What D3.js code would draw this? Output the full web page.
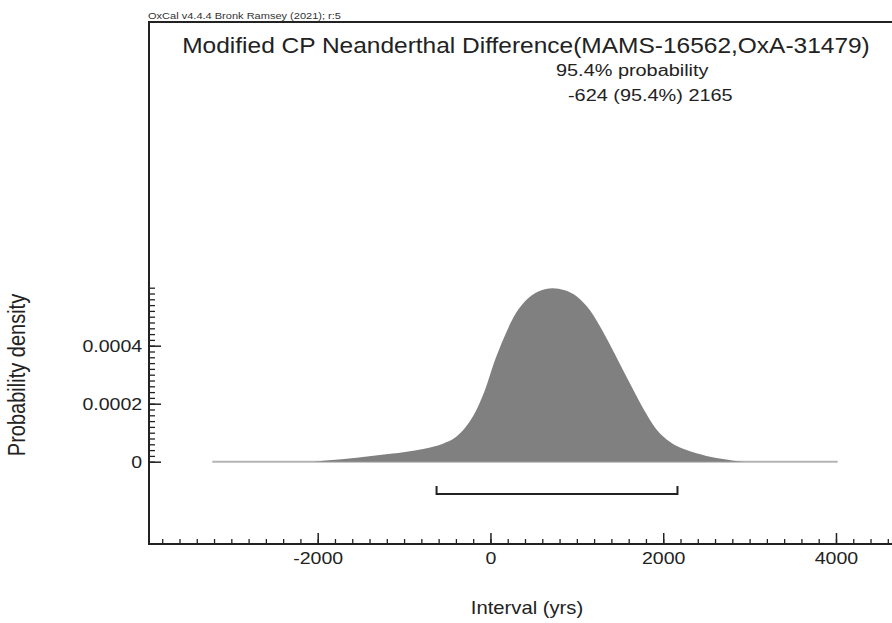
<!DOCTYPE html>
<html>
<head>
<meta charset="utf-8">
<script src="https://cdn.jsdelivr.net/npm/d3@7"></script>
<style>
  body { margin: 0; background: #fff; }
  svg { display: block; font-family: "Liberation Sans", Arial, sans-serif; }
</style>
</head>
<body>
<svg id="chart"></svg>
<script>
// density curve (interval in years, probability density)
const years = [-3220, -2050, -1900, -1550, -1160, -780, -550, -400, -280, -160, -60, 40, 160, 270, 400, 560, 720, 860, 1000, 1150, 1300, 1450, 1600, 1770, 1920, 2080, 2270, 2500, 2730, 2900, 3000, 4020];
const density = [0, 0, 0.000004, 0.000014, 0.000027, 0.000044, 0.000062, 0.000085, 0.000122, 0.00018, 0.00025, 0.00034, 0.00043, 0.0005, 0.000553, 0.000588, 0.000598, 0.000591, 0.00057, 0.000523, 0.00045, 0.000365, 0.000278, 0.000183, 0.000112, 0.000068, 0.00004, 0.00002, 0.000008, 0.000001, 0, 0];
const range954 = [-624, 2165];
const xTickValues = [-2000, 0, 2000, 4000];
const yTickValues = [0, 0.0002, 0.0004];
const yTickLabels = ["0", "0.0002", "0.0004"];
const titleText = "Modified CP Neanderthal Difference(MAMS-16562,OxA-31479)";
const probText = "95.4% probability";
const rangeText = "-624 (95.4%) 2165";
const creditText = "OxCal v4.4.4 Bronk Ramsey (2021); r:5";

const width = 892, height = 623;
const stretch = 1.15; // source picture is widened horizontally
const ink = "#222";

const svg = d3.select("svg#chart")
    .attr("width", width)
    .attr("height", height)
    .attr("viewBox", [0, 0, width, height]);

const frame = { left: 149, top: 22, bottom: 544, right: 905 };

const x = d3.scaleLinear()
    .domain([-3953, -3953 + (900 - 149) / 0.08638])
    .range([149, 900]);

const y = d3.scaleLinear()
    .domain([0, 0.0006])
    .range([461.7, 287.7]);

const data = years.map((d, i) => ({ yr: d, p: density[i] }));

// baseline of the distribution
svg.append("line")
    .attr("x1", x(years[0])).attr("x2", x(years[years.length - 1]))
    .attr("y1", y(0)).attr("y2", y(0))
    .attr("stroke", "#b4b4b4")
    .attr("stroke-width", 2);

const area = d3.area()
    .x(d => x(d.yr))
    .y0(y(0))
    .y1(d => y(d.p))
    .curve(d3.curveMonotoneX);

svg.append("path")
    .datum(data)
    .attr("d", area)
    .attr("fill", "#808080");

// 95.4% range bracket
const by = 494;
svg.append("path")
    .attr("d", `M${x(range954[0])},${by - 8}V${by}H${x(range954[1])}V${by - 8}`)
    .attr("fill", "none")
    .attr("stroke", ink)
    .attr("stroke-width", 2);

// x axis: minor ticks every 200 years, labelled every 2000
const xMinor = d3.range(-3800, 4800, 200);
svg.append("g")
    .attr("transform", `translate(0, ${frame.bottom})`)
    .call(d3.axisBottom(x).tickValues(xMinor).tickSize(-5).tickFormat(""))
    .call(g => g.select(".domain").remove())
    .call(g => g.selectAll("line").attr("stroke", ink).attr("stroke-width", 1.3));

svg.append("g")
    .attr("transform", `translate(0, ${frame.bottom})`)
    .call(d3.axisBottom(x).tickValues(xTickValues).tickSize(-11).tickPadding(8).tickFormat(d => String(d)))
    .call(g => g.select(".domain").remove())
    .call(g => g.selectAll("line").attr("stroke", ink).attr("stroke-width", 1.5))
    .call(g => g.selectAll("text")
        .attr("fill", ink)
        .attr("font-size", 17)
        .attr("font-family", "Liberation Sans, Arial, sans-serif")
        .attr("transform", `scale(${stretch},1)`));

// y axis: minor ticks every 0.00002
const yMinor = d3.range(0, 0.000601, 0.00002);
svg.append("g")
    .attr("transform", `translate(${frame.left}, 0)`)
    .call(d3.axisLeft(y).tickValues(yMinor).tickSize(-6).tickFormat(""))
    .call(g => g.select(".domain").remove())
    .call(g => g.selectAll("line").attr("stroke", ink).attr("stroke-width", 1.3));

svg.append("g")
    .attr("transform", `translate(${frame.left}, 0)`)
    .call(d3.axisLeft(y).tickValues(yTickValues).tickSize(-12).tickPadding(6)
        .tickFormat((d, i) => yTickLabels[i]))
    .call(g => g.select(".domain").remove())
    .call(g => g.selectAll("line").attr("stroke", ink).attr("stroke-width", 1.5))
    .call(g => g.selectAll("text")
        .attr("fill", ink)
        .attr("font-size", 17)
        .attr("font-family", "Liberation Sans, Arial, sans-serif")
        .attr("transform", `scale(${stretch},1)`));

// plot frame (right side runs off the page)
svg.append("rect")
    .attr("x", frame.left).attr("y", frame.top)
    .attr("width", frame.right - frame.left)
    .attr("height", frame.bottom - frame.top)
    .attr("fill", "none")
    .attr("stroke", ink)
    .attr("stroke-width", 2);

const label = (txt, px, py, size, anchor, color) =>
    svg.append("text")
        .attr("transform", `translate(${px},${py}) scale(${stretch},1)`)
        .attr("text-anchor", anchor)
        .attr("font-size", size)
        .attr("fill", color || ink)
        .text(txt);

label(creditText, 148, 19, 9.6, "start", "#333");
label(titleText, 526, 53, 21.3, "middle");
label(probText, 556, 76, 17.3, "start");
label(rangeText, 568, 101, 17.3, "start");
label("Interval (yrs)", 527, 614, 17.6, "middle");

svg.append("text")
    .attr("transform", "translate(25,375) rotate(-90) scale(1,1.15)")
    .attr("text-anchor", "middle")
    .attr("font-size", 20)
    .attr("fill", ink)
    .text("Probability density");
</script>
</body>
</html>
